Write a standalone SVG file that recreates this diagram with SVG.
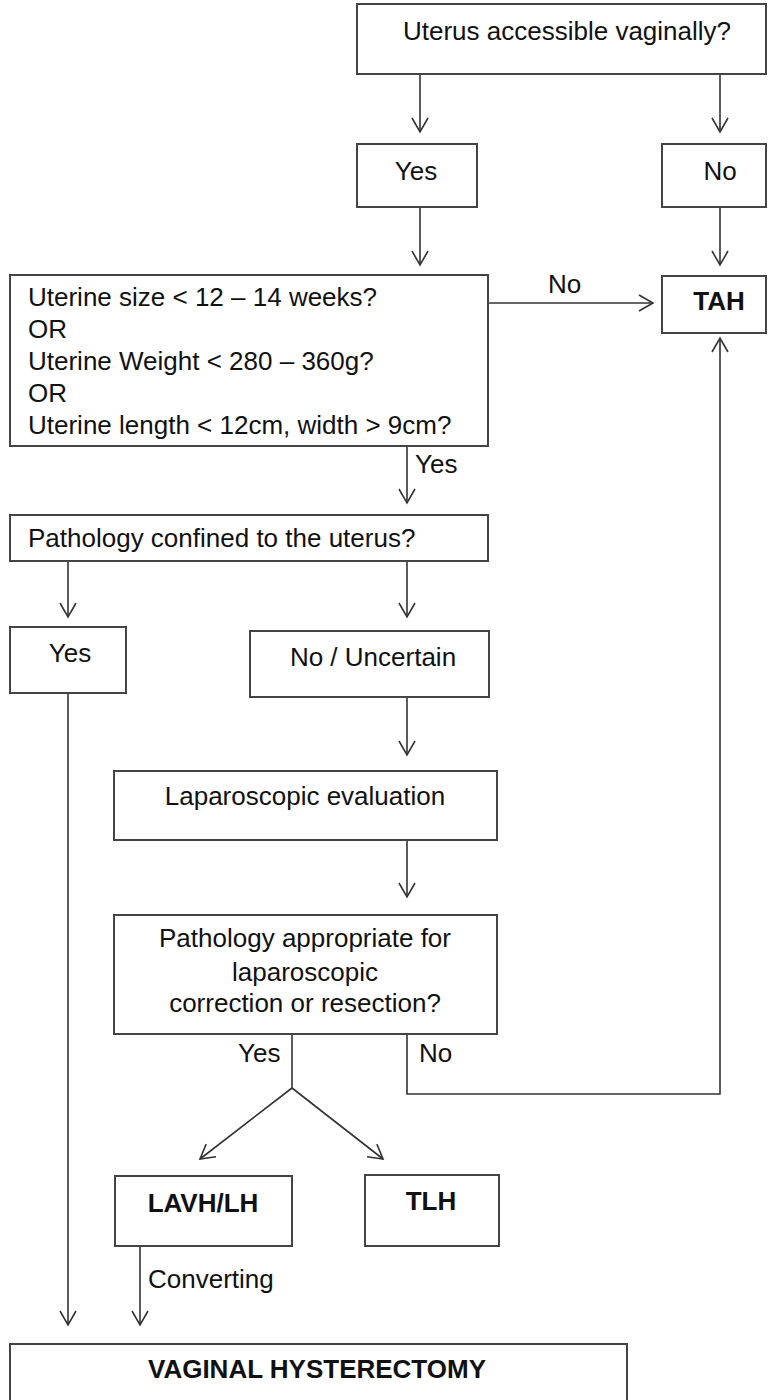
<svg xmlns="http://www.w3.org/2000/svg" width="768" height="1400" viewBox="0 0 768 1400">
<style>
.box{fill:#fff;stroke:#444;stroke-width:2}
.t{font-family:"Liberation Sans",Arial,sans-serif;font-size:26px;fill:#111}
.b{font-weight:bold}
.c{text-anchor:middle}
.ln{fill:none;stroke:#333;stroke-width:1.6}
</style>
<defs>
<marker id="ah" viewBox="-16 -10 18 20" refX="0" refY="0" markerWidth="18" markerHeight="20" markerUnits="userSpaceOnUse" orient="auto">
<path d="M-14,-8 L0,0 L-14,8" fill="none" stroke="#333" stroke-width="1.6"/>
</marker>
</defs>
<rect width="768" height="1400" fill="#fff"/>
<g id="connectors">
<path class="ln" d="M420,74 V132" marker-end="url(#ah)"/>
<path class="ln" d="M720,74 V132" marker-end="url(#ah)"/>
<path class="ln" d="M420,207 V265" marker-end="url(#ah)"/>
<path class="ln" d="M720,207 V265" marker-end="url(#ah)"/>
<path class="ln" d="M488,303 H653" marker-end="url(#ah)"/>
<text class="t" x="548" y="293">No</text>
<path class="ln" d="M407,446 V503" marker-end="url(#ah)"/>
<text class="t" x="415" y="473">Yes</text>
<path class="ln" d="M68,561 V617" marker-end="url(#ah)"/>
<path class="ln" d="M407,561 V617" marker-end="url(#ah)"/>
<path class="ln" d="M407,697 V755" marker-end="url(#ah)"/>
<path class="ln" d="M407,840 V897" marker-end="url(#ah)"/>
<path class="ln" d="M292,1027 V1088"/>
<text class="t" x="238" y="1062">Yes</text>
<path class="ln" d="M292,1088 L200,1159" marker-end="url(#ah)"/>
<path class="ln" d="M292,1088 L383,1159" marker-end="url(#ah)"/>
<path class="ln" d="M407,1035 V1094 H720 V338" marker-end="url(#ah)"/>
<text class="t" x="419" y="1062">No</text>
<path class="ln" d="M68,693 V1325" marker-end="url(#ah)"/>
<path class="ln" d="M140,1246 V1325" marker-end="url(#ah)"/>
<text class="t" x="148" y="1288">Converting</text>
</g>
<g id="n-access">
<rect class="box" x="357" y="4" width="409" height="70"/>
<text class="t c" x="567" y="40">Uterus accessible vaginally?</text>
</g>
<g id="n-yes1">
<rect class="box" x="357" y="144" width="120" height="63"/>
<text class="t c" x="416" y="180">Yes</text>
</g>
<g id="n-no1">
<rect class="box" x="662" y="144" width="104" height="63"/>
<text class="t c" x="720" y="180">No</text>
</g>
<g id="n-tah">
<rect class="box" x="662" y="276" width="104" height="57"/>
<text class="t b c" x="719" y="310">TAH</text>
</g>
<g id="n-size">
<rect class="box" x="10" y="275" width="478" height="171"/>
<text class="t" x="28" y="306">Uterine size &lt; 12 – 14 weeks?</text>
<text class="t" x="28" y="338">OR</text>
<text class="t" x="28" y="370">Uterine Weight &lt; 280 – 360g?</text>
<text class="t" x="28" y="402">OR</text>
<text class="t" x="28" y="434">Uterine length &lt; 12cm, width &gt; 9cm?</text>
</g>
<g id="n-confined">
<rect class="box" x="10" y="515" width="478" height="46"/>
<text class="t" x="28" y="547">Pathology confined to the uterus?</text>
</g>
<g id="n-yes2">
<rect class="box" x="10" y="627" width="116" height="66"/>
<text class="t c" x="70" y="662">Yes</text>
</g>
<g id="n-uncertain">
<rect class="box" x="250" y="631" width="239" height="66"/>
<text class="t c" x="373" y="666">No / Uncertain</text>
</g>
<g id="n-lapeval">
<rect class="box" x="114" y="771" width="383" height="69"/>
<text class="t c" x="305" y="805">Laparoscopic evaluation</text>
</g>
<g id="n-appropriate">
<rect class="box" x="114" y="915" width="383" height="119"/>
<text class="t c" x="305" y="947">Pathology appropriate for</text>
<text class="t c" x="305" y="981">laparoscopic</text>
<text class="t c" x="305" y="1012">correction or resection?</text>
</g>
<g id="n-lavh">
<rect class="box" x="115" y="1176" width="177" height="70"/>
<text class="t b c" x="203" y="1212">LAVH/LH</text>
</g>
<g id="n-tlh">
<rect class="box" x="365" y="1175" width="134" height="71"/>
<text class="t b c" x="431" y="1210">TLH</text>
</g>
<g id="n-vaginal">
<rect class="box" x="10" y="1344" width="617" height="80"/>
<text class="t b c" x="317" y="1378">VAGINAL HYSTERECTOMY</text>
</g>
</svg>
